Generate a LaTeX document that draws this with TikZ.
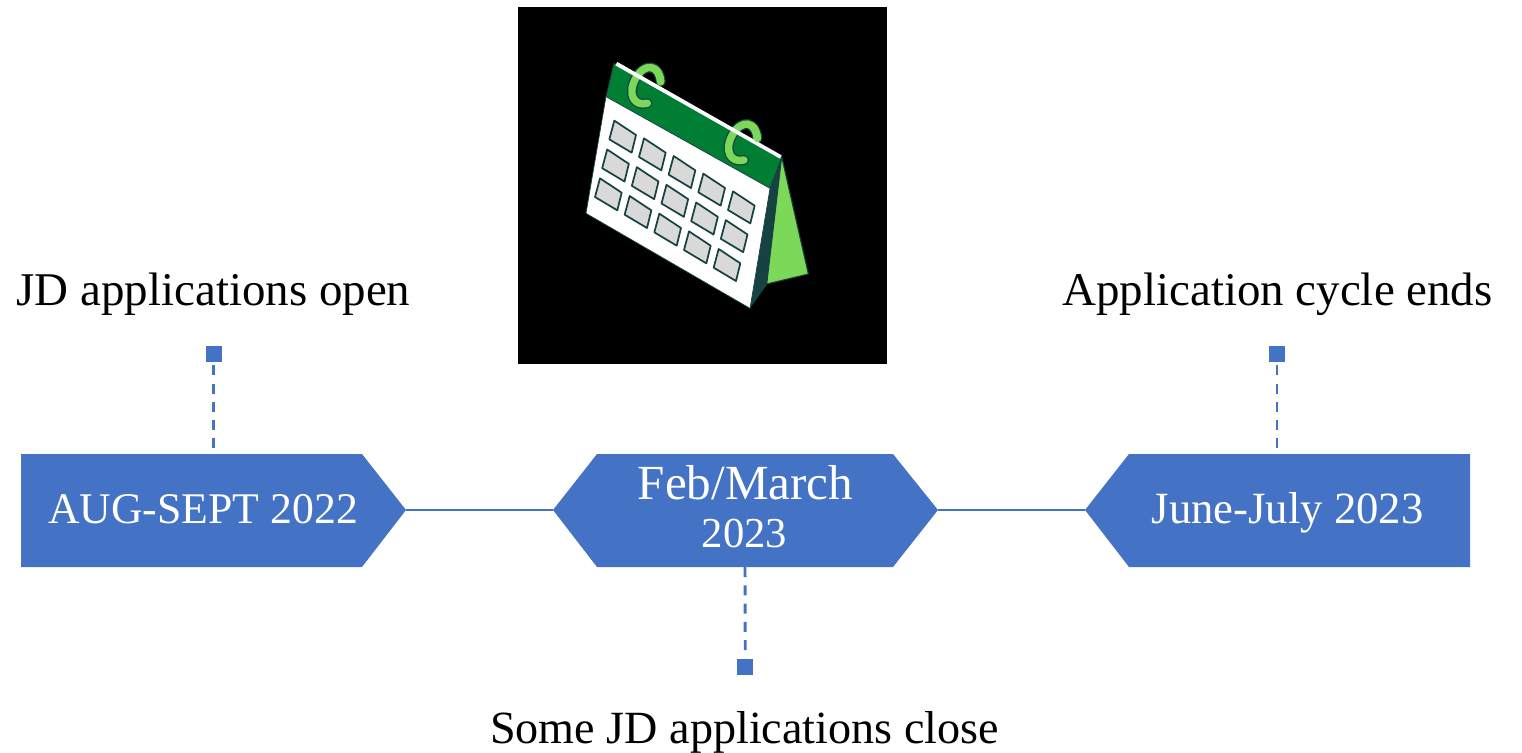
\documentclass[tikz,border=0pt]{standalone}
\usepackage{fontspec}
\setmainfont{Liberation Serif}
\definecolor{bluebox}{RGB}{68,114,196}
\definecolor{calgreen}{RGB}{0,126,51}
\definecolor{callight}{RGB}{123,216,88}
\definecolor{caldark}{RGB}{22,66,66}
\definecolor{calgrey}{RGB}{217,217,217}
\newcommand{\ringpath}{(272,95) .. controls (268,45) and (225,35) .. (197,85) .. controls (172,130) and (190,170) .. (232,160)}
\tikzset{
  boxshape/.style={fill=bluebox,draw=none},
  boxtext/.style={text=white,align=center,inner sep=0pt},
  label/.style={text=black,font=\fontsize{35.2}{40}\selectfont,inner sep=0pt,anchor=base},
  marker/.style={fill=bluebox,draw=none,minimum size=12pt,inner sep=0pt,shape=rectangle},
  stem/.style={draw=bluebox,line width=2.2pt,dash pattern=on 7.5pt off 6.2pt},
  stemup/.style={stem,dash phase=11.45pt},
  link/.style={draw=bluebox,line width=2pt},
  ring/.style={line cap=round,line join=round},
  cell/.style={fill=calgrey,draw=caldark,line width=1.3pt,line join=round}
}
\begin{document}
\begin{tikzpicture}[x=0.75pt,y=-0.75pt]
\useasboundingbox (0,0) rectangle (1522,753);
% calendar picture
\fill[black] (518,7) rectangle (887,364);
\begin{scope}[shift={(570,50)},x=0.25pt,y=-0.25pt]
  % stand
  \fill[callight,draw=caldark,line width=0.8pt,line join=round] (635,320) -- (715,672) -- (590,702) -- cycle;
  \fill[caldark] (635,320) -- (600,415) -- (540,775) -- (590,705) -- cycle;
  % header
  \fill[calgreen,draw=caldark,line width=0.6pt] (132,40) -- (635,322) -- (600,415) -- (108,140) -- cycle;
  % rings
  \foreach \dx/\dy in {0/0,290/170}{
    \begin{scope}[shift={(\dx,\dy)}]
      \draw[caldark,line width=7.5pt,ring] \ringpath;
      \draw[callight,line width=5.6pt,ring] \ringpath;
    \end{scope}
  }
  % white strip
  \fill[white] (142,36) -- (635,316) -- (630,326) -- (136,46) -- cycle;
  \foreach \dx/\dy in {0/0,290/170}{
    \begin{scope}[shift={(\dx,\dy)}]
      \draw[callight,line width=5.6pt,ring] (272,95) .. controls (270,80) and (266,68) .. (258,60);
    \end{scope}
  }
  % page
  \fill[white,draw=caldark,line width=0.5pt] (108,140) -- (600,415) -- (540,775) -- (48,490) -- cycle;
  % cells
  \foreach \r in {0,1,2}{
    \foreach \c in {0,1,2,3,4}{
      \begin{scope}[shift={(89*\c-21.5*\r,53*\c+86.5*\r)}]
        \draw[cell] (133,212) -- (198,255) -- (185,308) -- (118,268) -- cycle;
      \end{scope}
    }
  }
\end{scope}
% boxes
\fill[boxshape] (21,454) -- (362,454) -- (406,510) -- (362,567) -- (21,567) -- cycle;
\fill[boxshape] (553,510) -- (597,454) -- (893,454) -- (938,510) -- (893,567) -- (597,567) -- cycle;
\fill[boxshape] (1085,510) -- (1129,454) -- (1470,454) -- (1470,567) -- (1129,567) -- cycle;
\coordinate (tipA) at (406,510);
\coordinate (tipBl) at (553,510);
\coordinate (tipBr) at (938,510);
\coordinate (tipC) at (1085,510);
\coordinate (topA) at (213.5,449);
\coordinate (botB) at (745,567);
\coordinate (topC) at (1277,449);
\node[boxtext,anchor=base,font=\fontsize{32.8}{36}\selectfont] (boxA) at (203,523) {AUG-SEPT 2022};
\node[boxtext,anchor=base,font=\fontsize{36.8}{36}\selectfont] (boxB) at (745.5,499) {Feb/March};
\node[boxtext,anchor=base,font=\fontsize{32}{36}\selectfont] (boxBb) at (744.5,547) {2023};
\node[boxtext,anchor=base,font=\fontsize{33.5}{36}\selectfont] (boxC) at (1287.5,523) {June-July 2023};
% labels
\node[label] (labA) at (213.5,305) {JD applications open};
\node[label,font=\fontsize{34.6}{40}\selectfont] (labB) at (744.5,743) {Some JD applications close};
\node[label] (labC) at (1277.5,305) {Application cycle ends};
% markers
\node[marker] (mA) at (213.5,354) {};
\node[marker] (mB) at (745.3,666.7) {};
\node[marker] (mC) at (1277,354) {};
% connectors
\draw[link] (tipA) -- (tipBl);
\draw[link] (tipBr) -- (tipC);
\draw[stemup] (mA) -- (topA);
\draw[stem] (botB) -- (mB);
\draw[stemup] (mC) -- (topC);
\end{tikzpicture}
\end{document}
